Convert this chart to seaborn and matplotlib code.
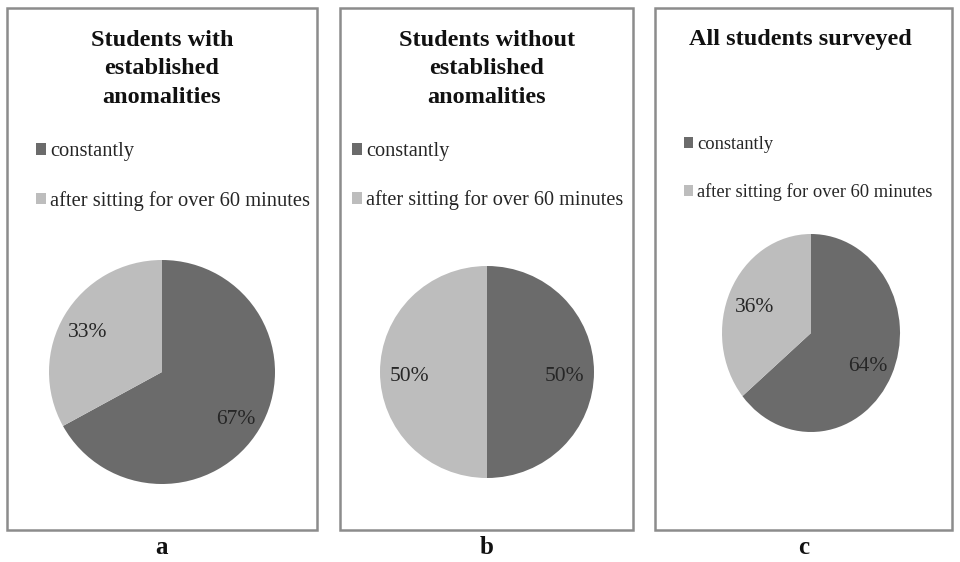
import matplotlib
matplotlib.use("Agg")
import matplotlib.pyplot as plt
from matplotlib.patches import Rectangle
import numpy as np
import seaborn as sns

sns.set_theme(style="white")
plt.rcParams['font.family'] = ['Liberation Serif', 'DejaVu Serif']

# ---- data ----
categories = ["constantly", "after sitting for over 60 minutes"]
titles = ["Students with\nestablished\nanomalities",
          "Students without\nestablished\nanomalities",
          "All students surveyed"]
panel_letters = ["a", "b", "c"]
values_a = [67, 33]
values_b = [50, 50]
values_c = [64, 36]
pct_labels_a = ["67%", "33%"]
pct_labels_b = ["50%", "50%"]
pct_labels_c = ["64%", "36%"]

colors = ["#6b6b6b", "#bdbdbd"]

W, H = 960, 562
fig = plt.figure(figsize=(W / 100, H / 100), dpi=100)
fig.patch.set_facecolor("white")

def fx(x):
    return x / W

def fy(y):
    return 1 - y / H

# panel frames (pixel bounds)
panels = [(7, 8, 317, 530), (340, 8, 633, 530), (655, 8, 952, 530)]
for (x0, y0, x1, y1) in panels:
    fig.patches.append(Rectangle((fx(x0), fy(y1)), fx(x1) - fx(x0), fy(y0) - fy(y1),
                                 transform=fig.transFigure, fill=False,
                                 edgecolor="#8c8c8c", linewidth=1.8))

# pies: center x, center y, rx, ry
pie_geo = [(162, 372, 113, 112), (487, 372, 107, 106), (811, 333, 89, 99)]
pct_dist = [0.76, 0.72, 0.70]
all_values = [values_a, values_b, values_c]
all_pcts = [pct_labels_a, pct_labels_b, pct_labels_c]
title_pos = [(162, 69, 17.5), (487, 69, 17.5), (800, 39, 17.5)]
legend_pos = [(36, 155, 14.8, 1.45), (352, 155, 14.6, 1.45), (684, 149, 13.3, 1.62)]

for i in range(3):
    cx, cy, rx, ry = pie_geo[i]
    ax = fig.add_axes([fx(cx - rx), fy(cy + ry), 2 * rx / W, 2 * ry / H])
    wedges, _ = ax.pie(all_values[i], colors=colors, startangle=90, counterclock=False,
                       wedgeprops=dict(linewidth=0))
    ax.set_aspect("auto")
    ax.set_xlim(-1, 1)
    ax.set_ylim(-1, 1)
    ax.axis("off")
    # percentage labels at wedge centres
    for w, lab in zip(wedges, all_pcts[i]):
        ang = np.deg2rad((w.theta1 + w.theta2) / 2)
        d = pct_dist[i]
        ax.annotate(lab, (d * np.cos(ang), d * np.sin(ang)), xytext=(0, -3),
                    textcoords="offset points", ha="center", va="center",
                    fontsize=15.5, color="#262626")
    # title
    tx, ty, tfs = title_pos[i]
    fig.text(fx(tx), fy(ty), titles[i], ha="center", va="center", fontsize=tfs,
             fontweight="bold", color="#111111", linespacing=1.45,
             transform=fig.transFigure)
    # legend
    lx, ly, lfs, lsp = legend_pos[i]
    ax.legend(wedges, categories, loc="upper left", bbox_to_anchor=(fx(lx), fy(ly - 13)),
              bbox_transform=fig.transFigure, frameon=False, fontsize=lfs,
              handlelength=0.5, handleheight=0.5, handletextpad=0.2,
              labelspacing=lsp, borderpad=0, borderaxespad=0, labelcolor="#262626")
    # panel letter
    fig.text(fx((panels[i][0] + panels[i][2]) / 2), fy(547), panel_letters[i],
             ha="center", va="center", fontsize=18, fontweight="bold", color="#111111")

fig.savefig("out.png", dpi=100, facecolor="white")
